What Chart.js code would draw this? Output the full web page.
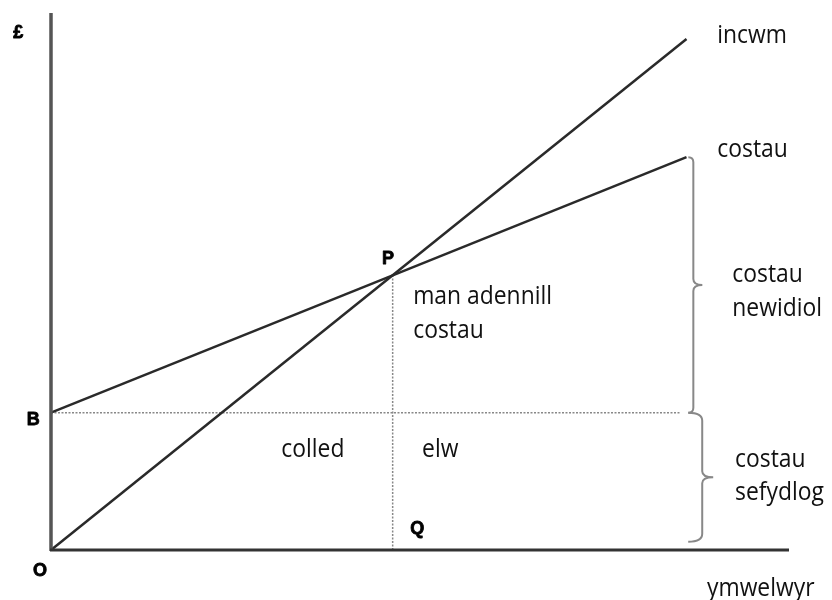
<!DOCTYPE html>
<html><head><meta charset="utf-8">
<style>html,body{margin:0;padding:0;background:#fff}canvas{display:block}</style>
<script src="https://cdn.jsdelivr.net/npm/chart.js@4"></script>
</head><body>
<canvas id="c" width="832" height="600"></canvas>
<script>
// ---- data ----
const visitors = [0, 500, 930];          // ymwelwyr
const income   = [0, 2000, 3720];        // incwm
const costs    = [1000, 2000, 2860];     // costau (fixed + variable)
const fixedCost = 1000;                  // B
const fixedLineEnd = 920;
const breakEvenX = 500, breakEvenY = 2000; // P / Q
const braceRanges = [[fixedCost, 2860], [60, fixedCost]]; // costau newidiol, costau sefydlog

const pts = (xs, ys) => xs.map((x, i) => ({x, y: ys[i]}));

const textLabels = [
  {t:'incwm', x:975, y:3692},
  {t:'costau', x:975, y:2862},
  {t:'costau', x:997, y:1951},
  {t:'newidiol', x:997, y:1704},
  {t:'costau', x:1001, y:604},
  {t:'sefydlog', x:1001, y:364},
  {t:'ymwelwyr', x:960, y:-335},
  {t:'man adennill', x:530, y:1791},
  {t:'costau', x:530, y:1544},
  {t:'colled', x:337, y:677},
  {t:'elw', x:543, y:677}
];
const boldLabels = [
  {t:'£', x:-48, y:3728},
  {t:'O', x:-16, y:-189},
  {t:'B', x:-26, y:910},
  {t:'P', x:493, y:2082},
  {t:'Q', x:536, y:116}
];

const drawPlugin = {
  id: 'drawExtras',
  afterDatasetsDraw(chart) {
    const {ctx, scales:{x, y}} = chart;
    const x0 = x.getPixelForValue(0), y0 = y.getPixelForValue(0);
    ctx.save();
    // axes
    ctx.lineCap = 'butt';
    ctx.strokeStyle = '#555'; ctx.lineWidth = 3.5;
    ctx.beginPath(); ctx.moveTo(x0, y.getPixelForValue(y.max)); ctx.lineTo(x0, y0 + 1); ctx.stroke();
    ctx.strokeStyle = '#333'; ctx.lineWidth = 3;
    ctx.beginPath(); ctx.moveTo(x0 - 1, y0); ctx.lineTo(x.getPixelForValue(x.max), y0); ctx.stroke();
    // braces
    const braceX = [940, 953], braceR = [5, 14], braceD = [9, 11];
    ctx.strokeStyle = '#888'; ctx.lineWidth = 2;
    braceRanges.forEach((r, i) => {
      const bx = x.getPixelForValue(braceX[i]);
      const y1 = y.getPixelForValue(r[1]), y2 = y.getPixelForValue(r[0]);
      const ym = (y1 + y2) / 2, rr = braceR[i], d = braceD[i];
      ctx.beginPath();
      ctx.moveTo(bx - rr, y1);
      ctx.quadraticCurveTo(bx, y1, bx, y1 + Math.min(rr, 8));
      ctx.lineTo(bx, ym - 6);
      ctx.quadraticCurveTo(bx, ym, bx + d, ym);
      ctx.quadraticCurveTo(bx, ym, bx, ym + 6);
      ctx.lineTo(bx, y2 - Math.min(rr, 8));
      ctx.quadraticCurveTo(bx, y2, bx - rr, y2);
      ctx.stroke();
    });
    // text labels
    ctx.fillStyle = '#111';
    ctx.font = '26px "Open Sans"';
    ctx.textAlign = 'left'; ctx.textBaseline = 'alphabetic';
    textLabels.forEach(l => {
      ctx.save();
      ctx.translate(x.getPixelForValue(l.x), y.getPixelForValue(l.y));
      ctx.scale(0.88, 1);
      ctx.fillText(l.t, 0, 0);
      ctx.restore();
    });
    ctx.font = 'bold 18px "Liberation Sans"';
    ctx.textAlign = 'center';
    ctx.fillStyle = '#000';
    ctx.strokeStyle = '#000'; ctx.lineWidth = 0.8; ctx.lineJoin = 'round';
    boldLabels.forEach(l => {
      const px = x.getPixelForValue(l.x), py = y.getPixelForValue(l.y);
      ctx.fillText(l.t, px, py);
      ctx.strokeText(l.t, px, py);
    });
    ctx.restore();
  }
};

new Chart(document.getElementById('c'), {
  type: 'scatter',
  data: {
    datasets: [
      {data: pts(visitors, income), showLine: true, borderColor: '#2a2a2a', borderWidth: 2.5, pointRadius: 0, clip: false},
      {data: pts(visitors, costs), showLine: true, borderColor: '#2a2a2a', borderWidth: 2.5, pointRadius: 0, clip: false},
      {data: [{x:0, y:fixedCost}, {x:fixedLineEnd, y:fixedCost}], showLine: true, borderColor: '#888', borderWidth: 1.5, borderDash: [2, 1.5], pointRadius: 0, clip: false},
      {data: [{x:breakEvenX, y:0}, {x:breakEvenX, y:breakEvenY}], showLine: true, borderColor: '#888', borderWidth: 1.5, borderDash: [2, 1.5], pointRadius: 0, clip: false}
    ]
  },
  options: {
    responsive: false,
    animation: false,
    layout: {padding: {left: 51, right: 43, top: 13, bottom: 50}},
    scales: {
      x: {type: 'linear', min: 0, max: 1080, display: false},
      y: {type: 'linear', min: 0, max: 3910, display: false}
    },
    plugins: {legend: {display: false}, tooltip: {enabled: false}}
  },
  plugins: [drawPlugin]
});
</script>
</body></html>
